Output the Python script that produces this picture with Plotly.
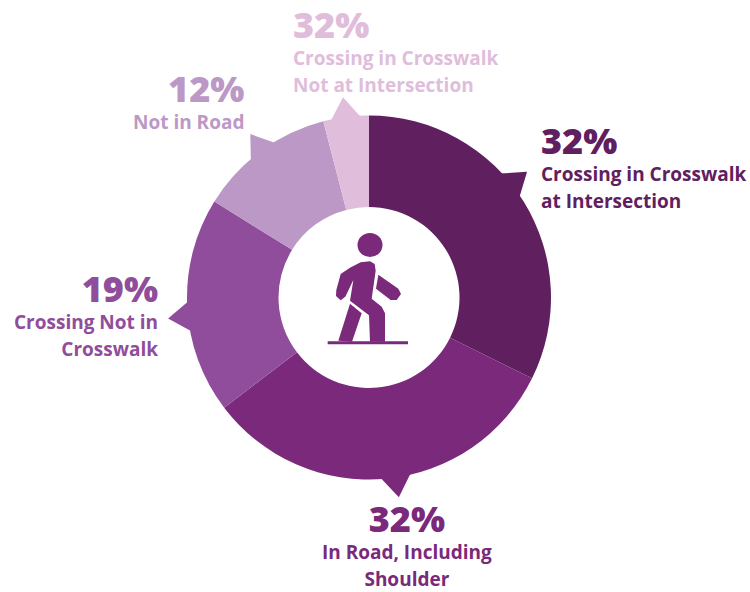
import math
import plotly.graph_objects as go

WIDTH, HEIGHT = 750, 592
CX, CY = 369, 297.5
R_OUTER, R_HOLE = 182, 90.5

# Pedestrian locations, clockwise from 12 o'clock
categories = [
    "Crossing in Crosswalk at Intersection",
    "In Road, Including Shoulder",
    "Crossing Not in Crosswalk",
    "Not in Road",
    "Crossing in Crosswalk Not at Intersection",
]
shares = [32, 32, 19, 12, 4]
share_labels = ["32%", "32%", "19%", "12%", "32%"]
label_lines = [
    ["Crossing in Crosswalk", "at Intersection"],
    ["In Road, Including", "Shoulder"],
    ["Crossing Not in", "Crosswalk"],
    ["Not in Road"],
    ["Crossing in Crosswalk", "Not at Intersection"],
]
colors = ["#602060", "#7A297B", "#8F4D9B", "#BC98C6", "#DFBDDB"]
ICON_COLOR = "#7A297B"

# Callout pointer direction (degrees clockwise from north) for each slice
pointer_angles = [51.5, 171.5, 264, 324, 352.6]
POINTER_RADIUS = 202
POINTER_HALF_SPREAD = 5

# Text block placement: horizontal anchor, x pixel, top y pixel
blocks = [
    ("left", 541, 116),
    ("center", 407, 494),
    ("right", 158, 264),
    ("right", 244, 64),
    ("left", 293, 0),
]

FONT = "Open Sans"
BLOCK_FONT_SIZE = 20.8  # sets the 27 px line pitch
PCT_SIZE = 36
LINE_SIZE = 19


def px(x, y):
    return x / WIDTH, 1 - y / HEIGHT


def polar_px(angle, radius):
    a = math.radians(angle)
    return CX + radius * math.sin(a), CY - radius * math.cos(a)


def svg_path(points):
    coords = [px(*p) for p in points]
    return "M" + " L".join(f"{x:.5f},{y:.5f}" for x, y in coords) + " Z"


fig = go.Figure(
    go.Pie(
        labels=categories,
        values=shares,
        sort=False,
        direction="clockwise",
        rotation=0,
        hole=R_HOLE / R_OUTER,
        marker=dict(colors=colors, line=dict(width=0)),
        textinfo="none",
        showlegend=False,
        domain=dict(
            x=[(CX - R_OUTER) / WIDTH, (CX + R_OUTER) / WIDTH],
            y=[1 - (CY + R_OUTER) / HEIGHT, 1 - (CY - R_OUTER) / HEIGHT],
        ),
    )
)

shapes = []

# Speech-bubble style pointers on the ring
for angle, color in zip(pointer_angles, colors):
    tri = [
        polar_px(angle - POINTER_HALF_SPREAD, R_OUTER - 2),
        polar_px(angle, POINTER_RADIUS),
        polar_px(angle + POINTER_HALF_SPREAD, R_OUTER - 2),
    ]
    shapes.append(dict(type="path", xref="paper", yref="paper", path=svg_path(tri),
                       fillcolor=color, line=dict(width=0), layer="above"))


# Walking figure in the hole, laid out on a 3x grid anchored at (270, 200)
def icon(points):
    return [(270 + x / 3, 200 + y / 3) for x, y in points]


torso = [(212, 222), (240, 203), (272, 187), (300, 184), (314, 192), (317, 212), (305, 296),
         (335, 320), (345, 340), (345, 425), (300, 425), (297, 346), (240, 302), (250, 240),
         (226, 290), (212, 301), (198, 288), (199, 270)]
front_arm = [(325, 224), (385, 266), (393, 282), (380, 300), (362, 300), (318, 266)]
back_leg = [(240, 311), (275, 340), (246, 425), (205, 422)]
ground = [(173, 424), (414, 424), (414, 433), (173, 433)]
for part in (torso, front_arm, back_leg, ground):
    shapes.append(dict(type="path", xref="paper", yref="paper", path=svg_path(icon(part)),
                       fillcolor=ICON_COLOR, line=dict(width=0), layer="above"))

hx2, hy2 = px(382.5, 233)
hx1, hy1 = px(357.5, 257)
shapes.append(dict(type="circle", xref="paper", yref="paper", x0=hx1, y0=hy1, x1=hx2, y1=hy2,
                   fillcolor=ICON_COLOR, line=dict(width=0), layer="above"))

# One text block per slice: large percent above its description lines
annotations = []
for pct, lines, color, (anchor, x, top) in zip(share_labels, label_lines, colors, blocks):
    body = "<br>".join(f'<span style="font-size:{LINE_SIZE}px">{line}</span>' for line in lines)
    text = f'<span style="font-size:{PCT_SIZE}px;font-weight:800">{pct}</span><br>{body}'
    ax, ay = px(x, top)
    annotations.append(dict(text=text, x=ax, y=ay, xref="paper", yref="paper",
                            xanchor=anchor, yanchor="top", align=anchor, showarrow=False,
                            borderpad=0, borderwidth=0,
                            font=dict(family=FONT, size=BLOCK_FONT_SIZE, weight=700, color=color)))

fig.update_layout(
    width=WIDTH,
    height=HEIGHT,
    margin=dict(l=0, r=0, t=0, b=0),
    paper_bgcolor="white",
    shapes=shapes,
    annotations=annotations,
)

fig.write_html("out.html")
